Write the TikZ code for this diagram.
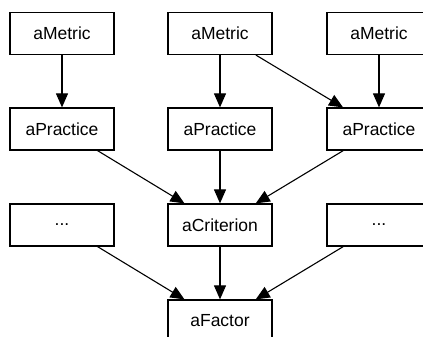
\documentclass[tikz,border=0pt]{standalone}
\usepackage{fontspec}
\setmainfont{Liberation Sans}
\usetikzlibrary{arrows.meta}
\begin{document}
\begin{tikzpicture}[x=1pt,y=-1pt,
  box/.style={draw,line width=1.2pt,minimum width=104pt,minimum height=42pt,inner sep=0pt,font=\fontsize{17.5}{20}\selectfont},
  conn/.style={line width=1.1pt,-{Triangle[length=14pt,width=12pt]}}]
\clip (0,0) rectangle (423,337);
\useasboundingbox (0,0) rectangle (423,337);
\node[box] (m1) at (62,33.5) {aMetric};
\node[box] (m2) at (220,33.5) {aMetric};
\node[box] (m3) at (379,33.5) {aMetric};
\node[box] (p1) at (62,129) {aPractice};
\node[box] (p2) at (220,129) {aPractice};
\node[box] (p3) at (379,129) {aPractice};
\node[box] (d1) at (62,225) {...};
\node[box] (c) at (220,225) {aCriterion};
\node[box] (d2) at (379,225) {...};
\node[box] (f) at (220,321) {aFactor};
\draw[conn] (m1) -- (p1);
\draw[conn] (m2) -- (p2);
\draw[conn] (m2) -- (p3);
\draw[conn] (m3) -- (p3);
\draw[conn] (p1) -- (c);
\draw[conn] (p2) -- (c);
\draw[conn] (p3) -- (c);
\draw[conn] (d1) -- (f);
\draw[conn] (c) -- (f);
\draw[conn] (d2) -- (f);
\end{tikzpicture}
\end{document}
